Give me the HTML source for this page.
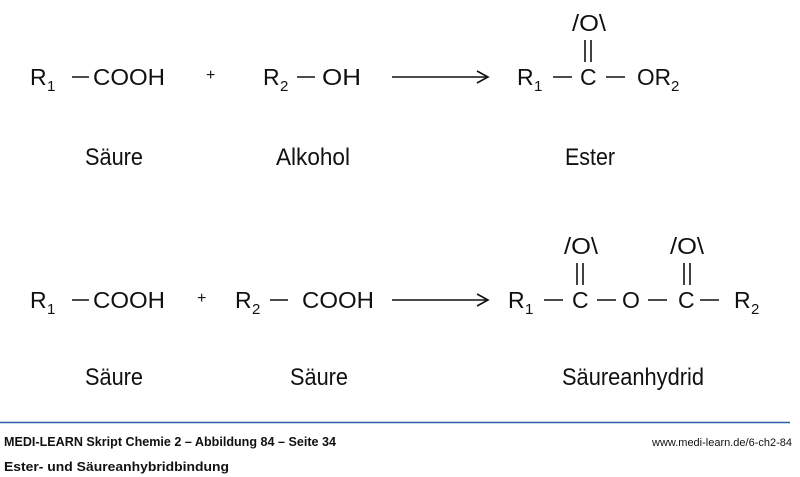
<!DOCTYPE html>
<html><head><meta charset="utf-8"><style>
html,body{margin:0;padding:0;background:#fff;}
svg{display:block;}
text{font-family:"Liberation Sans",sans-serif;fill:#111;}
.m{font-size:23px;}
.s{font-size:15px;}
.l{font-size:24px;}
.f{font-size:13px;font-weight:bold;}
</style></head><body>
<svg width="800" height="477" viewBox="0 0 800 477" xmlns="http://www.w3.org/2000/svg">
<g stroke="#111" stroke-width="1.6" fill="none">
<line x1="72" y1="77" x2="89" y2="77"/>
<line x1="297" y1="77" x2="315" y2="77"/>
<line x1="392" y1="77" x2="486" y2="77"/>
<polyline points="477,71 488,77 477,83"/>
<line x1="553" y1="77" x2="572" y2="77"/>
<line x1="606" y1="77" x2="625" y2="77"/>
<line x1="585" y1="40" x2="585" y2="62"/><line x1="591" y1="40" x2="591" y2="62"/>
<line x1="72" y1="300" x2="89" y2="300"/>
<line x1="270" y1="300" x2="288" y2="300"/>
<line x1="392" y1="300" x2="486" y2="300"/>
<polyline points="477,294 488,300 477,306"/>
<line x1="544" y1="300" x2="563" y2="300"/>
<line x1="597" y1="300" x2="616" y2="300"/>
<line x1="648" y1="300" x2="667" y2="300"/>
<line x1="700" y1="300" x2="719" y2="300"/>
<line x1="577" y1="263" x2="577" y2="285"/><line x1="583" y1="263" x2="583" y2="285"/>
<line x1="684" y1="263" x2="684" y2="285"/><line x1="690" y1="263" x2="690" y2="285"/>
</g>
<text class="m" x="30" y="85">R</text><text class="s" x="47" y="91">1</text>
<text class="m" x="93" y="85" textLength="72" lengthAdjust="spacingAndGlyphs">COOH</text>
<text class="m" x="206" y="80" style="font-size:16px">+</text>
<text class="m" x="263" y="85">R</text><text class="s" x="280" y="91">2</text>
<text class="m" x="322" y="85" textLength="39" lengthAdjust="spacingAndGlyphs">OH</text>
<text class="m" x="517" y="85">R</text><text class="s" x="534" y="91">1</text>
<text class="m" x="580" y="85">C</text>
<text class="m" x="637" y="85" textLength="34" lengthAdjust="spacingAndGlyphs">OR</text><text class="s" x="671" y="91">2</text>
<text class="m" x="572" y="31" textLength="34" lengthAdjust="spacingAndGlyphs">/O\</text>
<text class="l" x="114" y="165" text-anchor="middle" textLength="58" lengthAdjust="spacingAndGlyphs">Säure</text>
<text class="l" x="313" y="165" text-anchor="middle" textLength="74" lengthAdjust="spacingAndGlyphs">Alkohol</text>
<text class="l" x="590" y="165" text-anchor="middle" textLength="50" lengthAdjust="spacingAndGlyphs">Ester</text>
<text class="m" x="30" y="308">R</text><text class="s" x="47" y="314">1</text>
<text class="m" x="93" y="308" textLength="72" lengthAdjust="spacingAndGlyphs">COOH</text>
<text class="m" x="197" y="303" style="font-size:16px">+</text>
<text class="m" x="235" y="308">R</text><text class="s" x="252" y="314">2</text>
<text class="m" x="302" y="308" textLength="72" lengthAdjust="spacingAndGlyphs">COOH</text>
<text class="m" x="508" y="308">R</text><text class="s" x="525" y="314">1</text>
<text class="m" x="572" y="308">C</text>
<text class="m" x="622" y="308">O</text>
<text class="m" x="678" y="308">C</text>
<text class="m" x="734" y="308">R</text><text class="s" x="751" y="314">2</text>
<text class="m" x="564" y="254" textLength="34" lengthAdjust="spacingAndGlyphs">/O\</text>
<text class="m" x="670" y="254" textLength="34" lengthAdjust="spacingAndGlyphs">/O\</text>
<text class="l" x="114" y="385" text-anchor="middle" textLength="58" lengthAdjust="spacingAndGlyphs">Säure</text>
<text class="l" x="319" y="385" text-anchor="middle" textLength="58" lengthAdjust="spacingAndGlyphs">Säure</text>
<text class="l" x="633" y="385" text-anchor="middle" textLength="142" lengthAdjust="spacingAndGlyphs">Säureanhydrid</text>
<line x1="0" y1="422.5" x2="790" y2="422.5" stroke="#2a5ca8" stroke-width="1.5"/>
<text class="f" x="4" y="446" textLength="332" lengthAdjust="spacingAndGlyphs">MEDI-LEARN Skript Chemie 2 – Abbildung 84 – Seite 34</text>
<text class="f" x="4" y="471" textLength="225" lengthAdjust="spacingAndGlyphs">Ester- und Säureanhybridbindung</text>
<text x="792" y="446" text-anchor="end" style="font-size:11px" textLength="140" lengthAdjust="spacingAndGlyphs">www.medi-learn.de/6-ch2-84</text>
</svg>
</body></html>
